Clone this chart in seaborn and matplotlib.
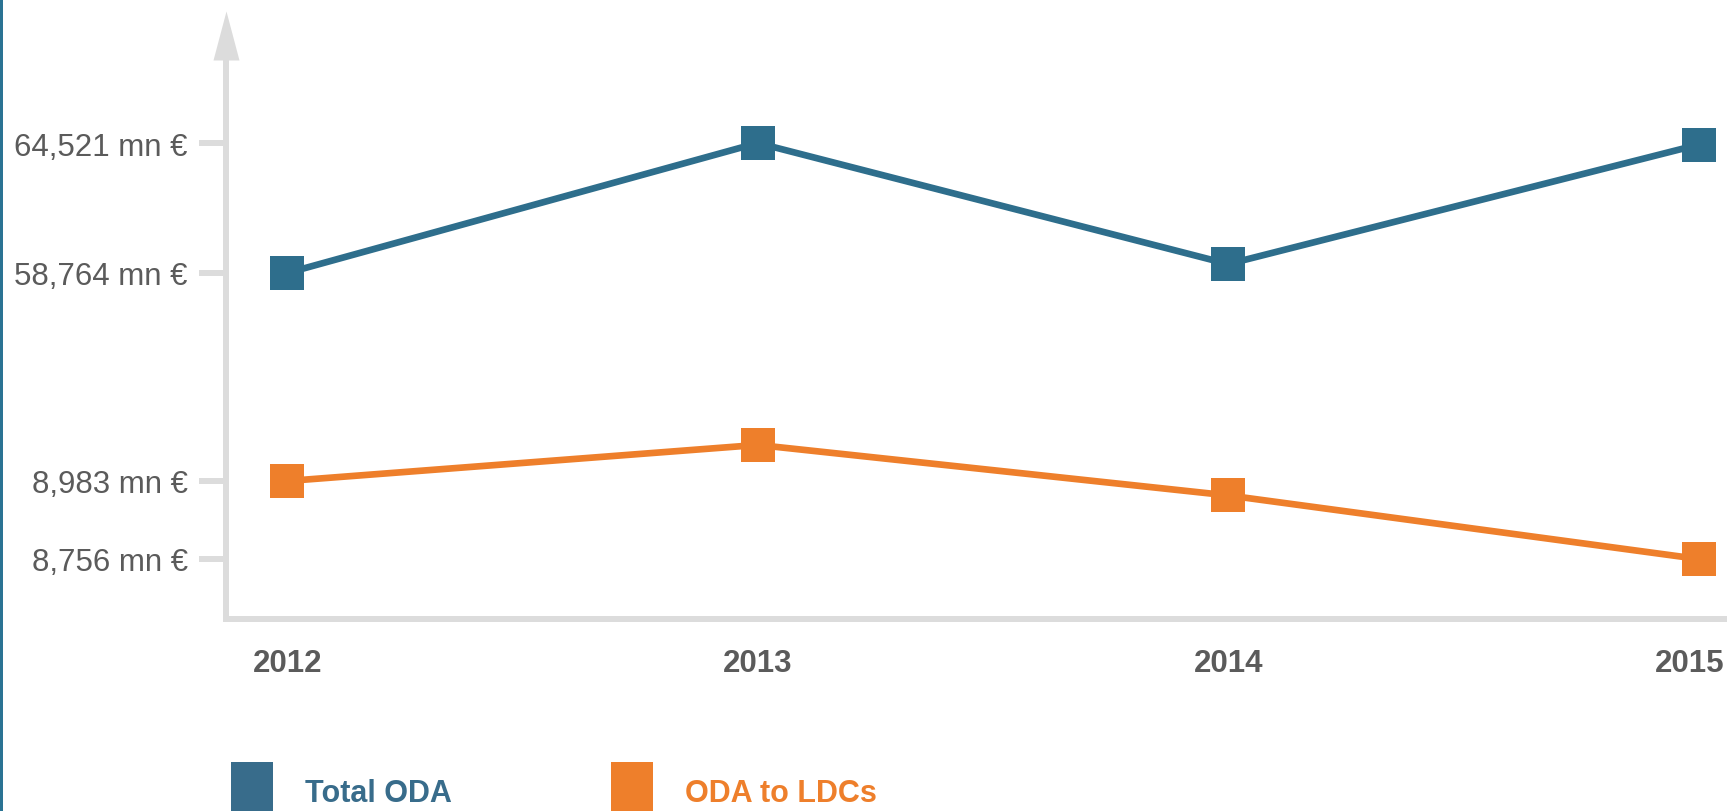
#!/usr/bin/env python3
"""
Total ODA vs ODA to LDCs, 2012-2015 (broken value axis)
Generates out.png
"""

import numpy as np
import pandas as pd
import matplotlib.pyplot as plt
import matplotlib.transforms as mtransforms
import seaborn as sns
from matplotlib.patches import Patch, Rectangle
from matplotlib.ticker import NullLocator

YEARS = [2012, 2013, 2014, 2015]
TOTAL_ODA = [58764, 64521, 59160, 64450]
ODA_LDCS = [8983, 9088, 8941, 8756]
SERIES = ['Total ODA', 'ODA to LDCs']
Y_TICKS = [8756, 8983, 58764, 64521]

BLUE = '#2e6e8c'
BLUE_LEG = '#386c8b'
ORANGE = '#ee7f2b'
GREY = '#dcdcdc'
TEXT = '#5b5b5b'
EDGE = '#2a7393'

# the value axis is broken: height (px above the x axis) of each labelled value,
# two linear pieces (LDC range, total range) joined by a squeezed gap
TICK_PX = [60, 138, 346, 476]
GAP = (9400, 57000)
AXES_PX = 559

sns.set_theme(style='white')
plt.rcParams['font.family'] = ['Liberation Sans', 'DejaVu Sans']


def _knots():
    lo = (TICK_PX[1] - TICK_PX[0]) / (Y_TICKS[1] - Y_TICKS[0])
    hi = (TICK_PX[3] - TICK_PX[2]) / (Y_TICKS[3] - Y_TICKS[2])
    vals = [Y_TICKS[0], Y_TICKS[1], GAP[0], GAP[1], Y_TICKS[2], Y_TICKS[3]]
    px = [TICK_PX[0], TICK_PX[1],
          TICK_PX[1] + (GAP[0] - Y_TICKS[1]) * lo,
          TICK_PX[2] - (Y_TICKS[2] - GAP[1]) * hi,
          TICK_PX[2], TICK_PX[3]]
    return np.array(vals, float), np.array(px, float), lo, hi


KV, KP, SLOPE_LO, SLOPE_HI = _knots()


def forward(v):
    v = np.asarray(v, dtype=float)
    out = np.interp(v, KV, KP)
    out = np.where(v < KV[0], KP[0] + (v - KV[0]) * SLOPE_LO, out)
    out = np.where(v > KV[-1], KP[-1] + (v - KV[-1]) * SLOPE_HI, out)
    return out


def inverse(p):
    p = np.asarray(p, dtype=float)
    out = np.interp(p, KP, KV)
    out = np.where(p < KP[0], KV[0] + (p - KP[0]) / SLOPE_LO, out)
    out = np.where(p > KP[-1], KV[-1] + (p - KP[-1]) / SLOPE_HI, out)
    return out


df = pd.DataFrame({
    'Year': YEARS * 2,
    'Value': TOTAL_ODA + ODA_LDCS,
    'Series': [s for s in SERIES for _ in YEARS],
})

W, H = 1727, 812
fig = plt.figure(figsize=(W / 100, H / 100), dpi=100)
ax = fig.add_axes([226 / W, 192 / H, 1 - 226 / W, AXES_PX / H])

sns.lineplot(
    data=df, x='Year', y='Value', hue='Series', style='Series',
    palette=[BLUE, ORANGE], markers=['s', 's'], dashes=False,
    markersize=25, markeredgewidth=0, linewidth=4.8,
    legend=False, sort=False, ax=ax
)

ax.set_yscale('function', functions=(forward, inverse))
ax.set_ylim(float(inverse(0)), float(inverse(AXES_PX)))
ax.set_xlim(2011.87, 2015.06)
ax.set_yticks(Y_TICKS)
ax.set_yticklabels([f'{v:,} mn €' for v in Y_TICKS])
ax.yaxis.set_minor_locator(NullLocator())
ax.set_xticks(YEARS)
ax.set_xticklabels([str(y) for y in YEARS])
ax.set_xlabel('')
ax.set_ylabel('')

ax.tick_params(axis='y', length=19.5, width=4.3, color=GREY, pad=8,
               labelsize=22.5, labelcolor=TEXT, left=True)
ax.tick_params(axis='x', length=0, pad=21, labelsize=22.5, labelcolor=TEXT)
xlabels = ax.get_xticklabels()
for lbl in xlabels:
    lbl.set_fontweight('bold')
# last year label sits a little left so it stays inside the frame
xlabels[-1].set_transform(xlabels[-1].get_transform()
                          + mtransforms.ScaledTranslation(-9 / 100, 0, fig.dpi_scale_trans))

for side in ['top', 'right']:
    ax.spines[side].set_visible(False)
for side in ['left', 'bottom']:
    ax.spines[side].set_color(GREY)
    ax.spines[side].set_linewidth(4.3)

# arrow head on top of the value axis
ax.plot([0], [1], transform=ax.transAxes, clip_on=False, color=GREY,
        marker=[(-13, 0), (13, 0), (0, 49)], markersize=70.6, markeredgewidth=0)

# legend
handles = [Patch(facecolor=BLUE_LEG, edgecolor='none'),
           Patch(facecolor=ORANGE, edgecolor='none')]
leg = fig.legend(handles, SERIES, loc='upper left', bbox_to_anchor=(231 / W, 49 / H),
                 ncol=2, frameon=False, prop={'size': 22, 'weight': 'bold'},
                 handlelength=1.37, handleheight=2.6, handletextpad=1.05,
                 columnspacing=5.2, borderpad=0, borderaxespad=0)
for t, c in zip(leg.get_texts(), [BLUE_LEG, ORANGE]):
    t.set_color(c)

# coloured frame edge on the left
fig.add_artist(Rectangle((0, 0), 3 / W, 1, transform=fig.transFigure,
                         color=EDGE, lw=0))

fig.savefig('out.png', dpi=100, facecolor='white')
